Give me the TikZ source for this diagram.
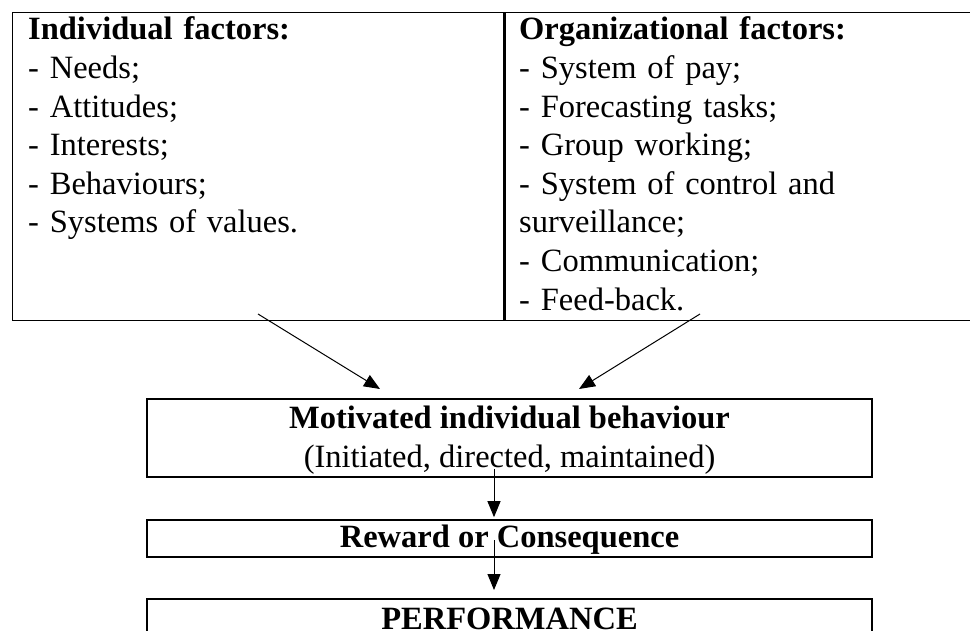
\documentclass[tikz,border=0pt]{standalone}
\usepackage{fontspec}
\setmainfont{Liberation Serif}
\usetikzlibrary{arrows.meta}
\begin{document}
\begin{tikzpicture}[x=1pt,y=-1pt,
    cell/.style={draw, line width=1.4pt, inner sep=0pt, anchor=north west, minimum height=308pt},
    listtext/.style={anchor=base west, inner sep=0pt, text width=440pt, align=left,
      font=\fontsize{32.5}{38.6}\selectfont},
    stage/.style={draw, line width=1.6pt, inner sep=0pt, minimum width=725pt, align=center,
      font=\fontsize{32.5}{38.6}\selectfont},
    arr/.style={-{Triangle[length=16pt,width=13pt]}, line width=1pt}]
  \useasboundingbox (0,0) rectangle (970,631);
  \clip (0,0) rectangle (970,631);
  % factor cells
  \node[cell, minimum width=491pt] (indiv) at (12,12) {};
  \node[cell, minimum width=500pt] (org) at (indiv.north east) {};
  \node[listtext] (indiv-list) at (28,40) {\textbf{Individual factors:}\\
    - Needs;\\
    - Attitudes;\\
    - Interests;\\
    - Behaviours;\\
    - Systems of values.};
  \node[listtext] (org-list) at (519,40) {\textbf{Organizational factors:}\\
    - System of pay;\\
    - Forecasting tasks;\\
    - Group working;\\
    - System of control and\\
    surveillance;\\
    - Communication;\\
    - Feed-back.};
  % chain of stages
  \node[stage, minimum height=78pt, text depth=3pt] (motiv) at (509.5,438)
    {\textbf{Motivated individual behaviour}\\(Initiated, directed, maintained)};
  \node[stage, minimum height=37pt, text height=24.2pt] (reward) at (509.5,538.5) {\textbf{Reward or Consequence}};
  \node[stage, minimum height=39.5pt, anchor=north] (perf) at (509.5,598) {\textbf{PERFORMANCE}};
  \coordinate (indiv-out) at (258,314);
  \coordinate (org-out) at (700,314);
  \coordinate (motiv-left) at (380,389);
  \coordinate (motiv-right) at (579,389);
  \draw[arr] (indiv-out) -- (motiv-left);
  \draw[arr] (org-out) -- (motiv-right);
  \draw[arr] ([xshift=-15.5pt,yshift=9pt]motiv.south) -- ([xshift=-15.5pt,yshift=2pt]reward.north);
  \draw[arr] ([xshift=-15.5pt,yshift=-1.5pt]reward.center) -- ([xshift=-15.5pt,yshift=8pt]perf.north);
\end{tikzpicture}
\end{document}
